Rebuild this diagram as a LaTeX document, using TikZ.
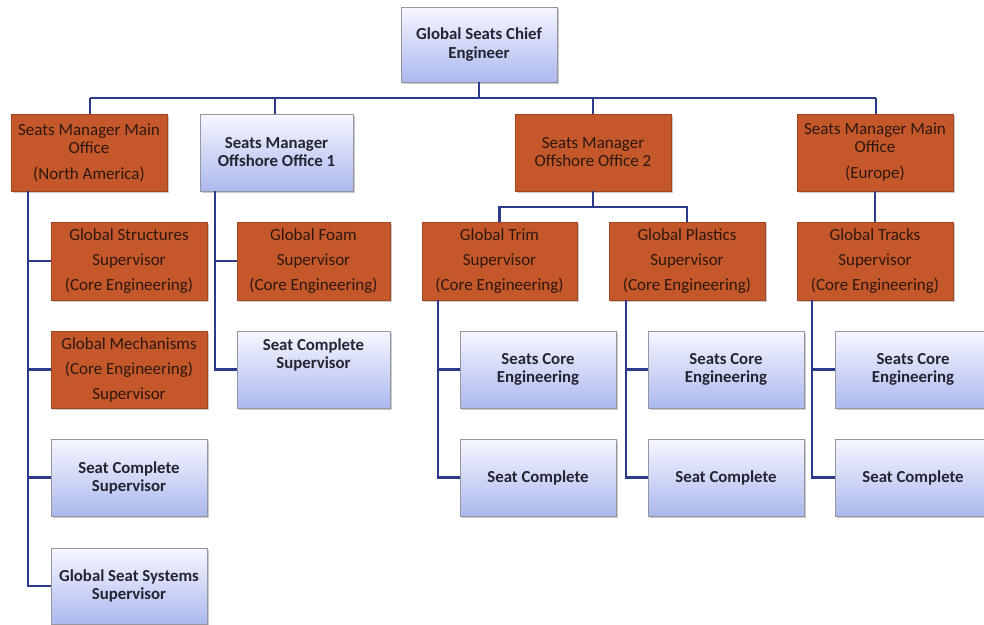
\documentclass[tikz,border=0pt]{standalone}
\usepackage{fontspec}
\setmainfont{Carlito}
\usetikzlibrary{shadows}
\definecolor{rust}{RGB}{196,88,43}
\definecolor{rustedge}{RGB}{160,70,34}
\definecolor{rusttext}{RGB}{46,24,14}
\definecolor{paletop}{RGB}{246,247,255}
\definecolor{palebot}{RGB}{172,184,238}
\definecolor{paleedge}{RGB}{150,150,160}
\definecolor{bluetext}{RGB}{36,36,50}
\definecolor{wire}{RGB}{44,58,140}
\tikzset{
  base/.style={rectangle, align=center, inner sep=2pt,
    drop shadow={shadow xshift=1.5pt, shadow yshift=-2pt, opacity=0.35, fill=black!60}},
  orangebox/.style={base, fill=rust, draw=rustedge, line width=0.6pt,
    text=rusttext, font=\fontsize{17}{25}\selectfont},
  orangetight/.style={orangebox, font=\fontsize{17}{18}\selectfont},
  bluebox/.style={base, top color=paletop, bottom color=palebot, draw=paleedge,
    line width=0.6pt, text=bluetext, font=\fontsize{16.8}{18}\selectfont\bfseries},
  conn/.style={draw=wire, line width=2.2pt},
  wd/.style={minimum width=#1pt},
}
\begin{document}
\begin{tikzpicture}[x=1pt, y=-1pt]
\useasboundingbox (0,0) rectangle (984,624);
\clip (0,0) rectangle (984,624);

% top of the chart
\node[bluebox, wd=156, minimum height=75pt, font=\fontsize{16.8}{19}\selectfont\bfseries] (top) at (479,44.5) {Global Seats Chief\\Engineer};

% managers
\node[orangetight, wd=156, minimum height=77pt] (na) at (89,152.5)
  {Seats Manager Main\\Office\\[8pt](North America)};
\node[bluebox, wd=153, minimum height=77pt] (off1) at (276.5,152.5) {Seats Manager\\Offshore Office 1};
\node[orangetight, wd=156, minimum height=77pt] (off2) at (593,152.5)
  {Seats Manager\\Offshore Office 2};
\node[orangetight, wd=156, minimum height=77pt] (eu) at (875,152.5)
  {Seats Manager Main\\Office\\[8pt](Europe)};

% supervisors
\node[orangebox, wd=156, minimum height=78pt] (struct) at (129,261) {Global Structures\\Supervisor\\(Core Engineering)};
\node[orangebox, wd=153, minimum height=78pt] (foam) at (313.5,261) {Global Foam\\Supervisor\\(Core Engineering)};
\node[orangebox, wd=155, minimum height=78pt] (trim) at (499.5,261) {Global Trim\\Supervisor\\(Core Engineering)};
\node[orangebox, wd=156, minimum height=78pt] (plast) at (687,261) {Global Plastics\\Supervisor\\(Core Engineering)};
\node[orangebox, wd=156, minimum height=78pt] (tracks) at (875,261) {Global Tracks\\Supervisor\\(Core Engineering)};

% third row
\node[orangebox, wd=156, minimum height=77pt] (mech) at (129,369.5) {Global Mechanisms\\(Core Engineering)\\Supervisor};
\node[bluebox, wd=153, minimum height=77pt] (scsB) at (313.5,369.5) {Seat Complete\\Supervisor\\[14pt]};
\node[bluebox, wd=156, minimum height=77pt] (sceA) at (538,369.5) {Seats Core\\Engineering};
\node[bluebox, wd=156, minimum height=77pt] (sceB) at (726,369.5) {Seats Core\\Engineering};
\node[bluebox, wd=156, minimum height=77pt] (sceC) at (913,369.5) {Seats Core\\Engineering};

% fourth row
\node[bluebox, wd=156, minimum height=77pt] (scsA) at (129,477.5) {Seat Complete\\Supervisor};
\node[bluebox, wd=156, minimum height=77pt] (scA) at (538,477.5) {Seat Complete};
\node[bluebox, wd=156, minimum height=77pt] (scB) at (726,477.5) {Seat Complete};
\node[bluebox, wd=156, minimum height=77pt] (scC) at (913,477.5) {Seat Complete};

% fifth row
\node[bluebox, wd=156, minimum height=76pt] (gss) at (129,586) {Global Seat Systems\\Supervisor};

% bus under the chief engineer
\coordinate (busL) at (90,98);
\coordinate (busR) at (876,98);
\draw[conn] (top.south) -- (top.south |- busL);
\draw[conn] (busL) -- (busR);
\draw[conn] (busL) -- (busL |- na.north);
\draw[conn] (off1.north -| 275,0) -- (275,98);
\draw[conn] (off2.north) -- (off2.north |- busL);
\draw[conn] (busR) -- (busR |- eu.north);

% North America spine
\coordinate (naS) at (28,191);
\draw[conn] (naS) |- (gss.west);
\foreach \n in {struct, mech, scsA} \draw[conn] (naS |- \n.west) -- (\n.west);

% Offshore 1 spine
\coordinate (o1S) at (215,191);
\draw[conn] (o1S) |- (scsB.west);
\draw[conn] (o1S |- foam.west) -- (foam.west);

% Offshore 2 branch
\coordinate (o2J) at (593,207);
\draw[conn] (off2.south) -- (o2J);
\draw[conn] (trim.north) |- (o2J) -| (plast.north);

% Europe
\draw[conn] (eu.south) -- (tracks.north);

% lower spines
\foreach \p/\x/\a/\b in {trim/438/sceA/scA, plast/626/sceB/scB, tracks/812/sceC/scC} {
  \draw[conn] (\x,300) |- (\b.west);
  \draw[conn] (\x,0 |- \a.west) -- (\a.west);
}
\end{tikzpicture}
\end{document}
